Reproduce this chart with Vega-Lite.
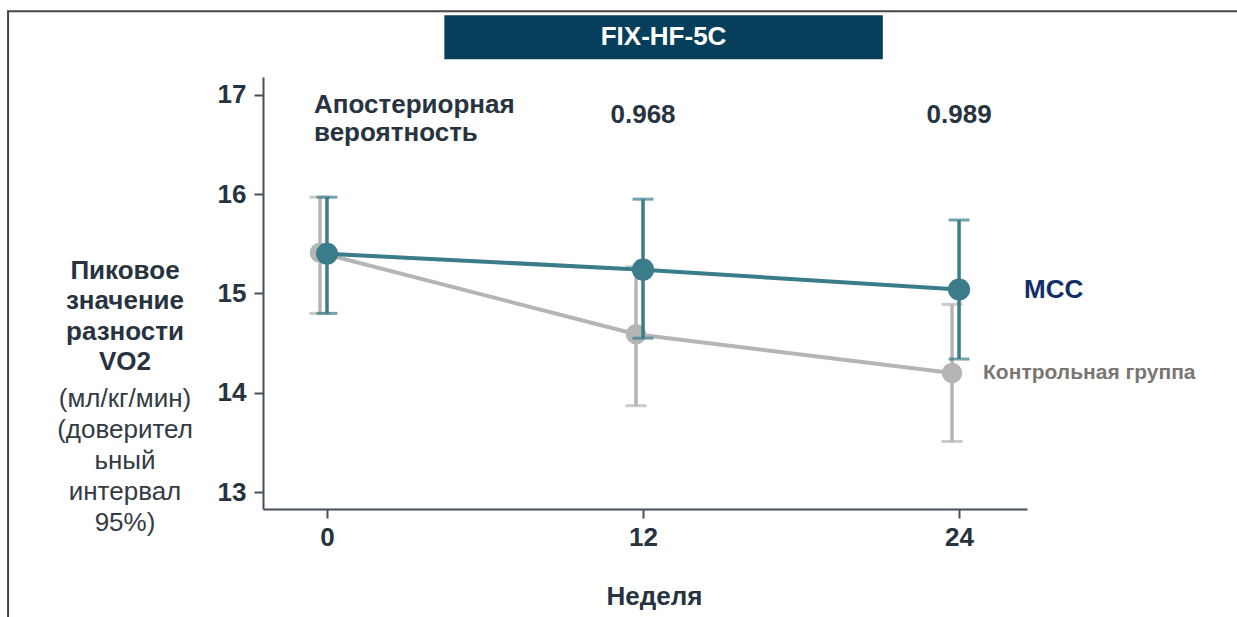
{
  "$schema": "https://vega.github.io/schema/vega-lite/v6.json",
  "width": 764,
  "height": 432,
  "autosize": {"type": "none"},
  "padding": {"left": 263, "top": 77, "right": 210, "bottom": 108},
  "background": "white",
  "config": {
    "view": {"stroke": null},
    "font": "Liberation Sans",
    "axis": {
      "domainColor": "#45505b", "domainWidth": 2,
      "tickColor": "#45505b", "tickWidth": 2, "tickSize": 9,
      "labelFont": "Liberation Sans", "labelFontWeight": "bold", "labelFontSize": 26, "labelColor": "#27333f",
      "grid": false,
      "titleFont": "Liberation Sans", "titleFontSize": 26, "titleFontWeight": "bold", "titleColor": "#27333f"
    }
  },
  "datasets": {
    "stats": [
      {"group": "MCC", "week": 0, "mean": 15.40, "lo": 14.80, "hi": 15.97},
      {"group": "MCC", "week": 12, "mean": 15.24, "lo": 14.55, "hi": 15.95},
      {"group": "MCC", "week": 24, "mean": 15.04, "lo": 14.34, "hi": 15.74},
      {"group": "Контрольная группа", "week": 0, "mean": 15.41, "lo": 14.80, "hi": 15.97},
      {"group": "Контрольная группа", "week": 12, "mean": 14.59, "lo": 13.87, "hi": 15.27},
      {"group": "Контрольная группа", "week": 24, "mean": 14.20, "lo": 13.51, "hi": 14.89}
    ],
    "probs": [
      {"week": 12, "prob": "0.968"},
      {"week": 24, "prob": "0.989"}
    ]
  },
  "layer": [
    {
      "data": {"values": [{}]},
      "mark": {"type": "rect", "fill": null, "stroke": "#444444", "strokeWidth": 2},
      "encoding": {
        "x": {"datum": -12.11, "type": "quantitative", "scale": {"domain": [-2.43, 26.58], "nice": false, "zero": false}},
        "x2": {"datum": 35.5},
        "y": {"datum": 17.842, "type": "quantitative", "scale": {"domain": [12.83, 17.18], "nice": false, "zero": false}},
        "y2": {"datum": 11.4}
      }
    },
    {
      "data": {"values": [{}]},
      "mark": {"type": "rect", "fill": "#063f5b"},
      "encoding": {
        "x": {"datum": 4.456, "type": "quantitative", "scale": {"domain": [-2.43, 26.58], "nice": false, "zero": false}},
        "x2": {"datum": 21.106},
        "y": {"datum": 17.802, "type": "quantitative", "scale": {"domain": [12.83, 17.18], "nice": false, "zero": false}},
        "y2": {"datum": 17.358}
      }
    },
    {
      "data": {"values": [{}]},
      "mark": {"type": "text", "text": "FIX-HF-5C", "color": "white", "fontWeight": "bold", "fontSize": 26, "align": "center", "baseline": "middle"},
      "encoding": {
        "x": {"datum": 12.78, "type": "quantitative", "scale": {"domain": [-2.43, 26.58], "nice": false, "zero": false}},
        "y": {"datum": 17.58, "type": "quantitative", "scale": {"domain": [12.83, 17.18], "nice": false, "zero": false}}
      }
    },
    {
      "data": {"name": "stats"},
      "transform": [{"filter": "datum.group !== 'MCC'"}],
      "mark": {"type": "rule", "color": "#b5b5b5", "strokeWidth": 3.5, "xOffset": -7},
      "encoding": {
        "x": {"field": "week", "type": "quantitative", "title": "Неделя", "scale": {"domain": [-2.43, 26.58], "nice": false, "zero": false},
              "axis": {"values": [0, 12, 24], "format": "d", "labelPadding": 6, "titlePadding": 33, "titleX": 391}},
        "y": {"field": "lo", "type": "quantitative", "title": null, "scale": {"domain": [12.83, 17.18], "nice": false, "zero": false},
              "axis": {"values": [13, 14, 15, 16, 17], "format": "d", "labelPadding": 8}},
        "y2": {"field": "hi"}
      }
    },
    {
      "data": {"name": "stats"},
      "transform": [{"filter": "datum.group !== 'MCC'"}, {"fold": ["lo", "hi"], "as": ["k", "v"]}],
      "mark": {"type": "tick", "orient": "horizontal", "color": "#b5b5b5", "size": 21, "thickness": 3, "xOffset": -7},
      "encoding": {
        "x": {"field": "week", "type": "quantitative", "title": "Неделя", "scale": {"domain": [-2.43, 26.58], "nice": false, "zero": false}},
        "y": {"field": "v", "type": "quantitative", "title": null, "scale": {"domain": [12.83, 17.18], "nice": false, "zero": false}}
      }
    },
    {
      "data": {"name": "stats"},
      "transform": [{"filter": "datum.group !== 'MCC'"}],
      "mark": {"type": "line", "color": "#b5b5b5", "strokeWidth": 4, "xOffset": -7},
      "encoding": {
        "x": {"field": "week", "type": "quantitative", "title": "Неделя", "scale": {"domain": [-2.43, 26.58], "nice": false, "zero": false}},
        "y": {"field": "mean", "type": "quantitative", "title": null, "scale": {"domain": [12.83, 17.18], "nice": false, "zero": false}}
      }
    },
    {
      "data": {"name": "stats"},
      "transform": [{"filter": "datum.group !== 'MCC'"}],
      "mark": {"type": "point", "filled": true, "color": "#b5b5b5", "size": 420, "opacity": 1, "xOffset": -7},
      "encoding": {
        "x": {"field": "week", "type": "quantitative", "title": "Неделя", "scale": {"domain": [-2.43, 26.58], "nice": false, "zero": false}},
        "y": {"field": "mean", "type": "quantitative", "title": null, "scale": {"domain": [12.83, 17.18], "nice": false, "zero": false}}
      }
    },
    {
      "data": {"name": "stats"},
      "transform": [{"filter": "datum.group === 'MCC'"}],
      "mark": {"type": "line", "color": "#3a7c8a", "strokeWidth": 4},
      "encoding": {
        "x": {"field": "week", "type": "quantitative", "title": "Неделя", "scale": {"domain": [-2.43, 26.58], "nice": false, "zero": false}},
        "y": {"field": "mean", "type": "quantitative", "title": null, "scale": {"domain": [12.83, 17.18], "nice": false, "zero": false}}
      }
    },
    {
      "data": {"name": "stats"},
      "transform": [{"filter": "datum.group === 'MCC'"}],
      "mark": {"type": "rule", "color": "#3a7c8a", "strokeWidth": 3.5},
      "encoding": {
        "x": {"field": "week", "type": "quantitative", "title": "Неделя", "scale": {"domain": [-2.43, 26.58], "nice": false, "zero": false}},
        "y": {"field": "lo", "type": "quantitative", "title": null, "scale": {"domain": [12.83, 17.18], "nice": false, "zero": false}},
        "y2": {"field": "hi"}
      }
    },
    {
      "data": {"name": "stats"},
      "transform": [{"filter": "datum.group === 'MCC'"}, {"fold": ["lo", "hi"], "as": ["k", "v"]}],
      "mark": {"type": "tick", "orient": "horizontal", "color": "#3a7c8a", "size": 21, "thickness": 3},
      "encoding": {
        "x": {"field": "week", "type": "quantitative", "title": "Неделя", "scale": {"domain": [-2.43, 26.58], "nice": false, "zero": false}},
        "y": {"field": "v", "type": "quantitative", "title": null, "scale": {"domain": [12.83, 17.18], "nice": false, "zero": false}}
      }
    },
    {
      "data": {"name": "stats"},
      "transform": [{"filter": "datum.group === 'MCC'"}],
      "mark": {"type": "point", "filled": true, "color": "#3a7c8a", "size": 490, "opacity": 1},
      "encoding": {
        "x": {"field": "week", "type": "quantitative", "title": "Неделя", "scale": {"domain": [-2.43, 26.58], "nice": false, "zero": false}},
        "y": {"field": "mean", "type": "quantitative", "title": null, "scale": {"domain": [12.83, 17.18], "nice": false, "zero": false}}
      }
    },
    {
      "data": {"name": "stats"},
      "transform": [{"filter": "datum.group === 'MCC' && datum.week === 24"}],
      "mark": {"type": "text", "align": "left", "baseline": "middle", "dx": 65, "fontSize": 26, "fontWeight": "bold", "color": "#122d69"},
      "encoding": {
        "x": {"field": "week", "type": "quantitative", "title": "Неделя", "scale": {"domain": [-2.43, 26.58], "nice": false, "zero": false}},
        "y": {"field": "mean", "type": "quantitative", "title": null, "scale": {"domain": [12.83, 17.18], "nice": false, "zero": false}},
        "text": {"field": "group"}
      }
    },
    {
      "data": {"name": "stats"},
      "transform": [{"filter": "datum.group !== 'MCC' && datum.week === 24"}],
      "mark": {"type": "text", "align": "left", "baseline": "middle", "dx": 24, "fontSize": 21, "fontWeight": "bold", "color": "#7b7672"},
      "encoding": {
        "x": {"field": "week", "type": "quantitative", "title": "Неделя", "scale": {"domain": [-2.43, 26.58], "nice": false, "zero": false}},
        "y": {"field": "mean", "type": "quantitative", "title": null, "scale": {"domain": [12.83, 17.18], "nice": false, "zero": false}},
        "text": {"field": "group"}
      }
    },
    {
      "data": {"name": "probs"},
      "mark": {"type": "text", "align": "center", "baseline": "middle", "fontSize": 26, "fontWeight": "bold", "color": "#27333f"},
      "encoding": {
        "x": {"field": "week", "type": "quantitative", "title": "Неделя", "scale": {"domain": [-2.43, 26.58], "nice": false, "zero": false}},
        "y": {"datum": 16.794, "type": "quantitative", "scale": {"domain": [12.83, 17.18], "nice": false, "zero": false}},
        "text": {"field": "prob"}
      }
    },
    {
      "data": {"values": [{}]},
      "mark": {"type": "text", "text": ["Апостериорная", "вероятность"], "align": "left", "baseline": "middle", "lineHeight": 28, "fontSize": 26, "fontWeight": "bold", "color": "#27333f"},
      "encoding": {
        "x": {"datum": -0.493, "type": "quantitative", "scale": {"domain": [-2.43, 26.58], "nice": false, "zero": false}},
        "y": {"datum": 16.898, "type": "quantitative", "scale": {"domain": [12.83, 17.18], "nice": false, "zero": false}}
      }
    },
    {
      "data": {"values": [{}]},
      "mark": {"type": "text", "text": ["Пиковое", "значение", "разности", "VO2"], "align": "center", "baseline": "middle", "lineHeight": 30.5, "fontSize": 26, "fontWeight": "bold", "color": "#27333f"},
      "encoding": {
        "x": {"datum": -7.67, "type": "quantitative", "scale": {"domain": [-2.43, 26.58], "nice": false, "zero": false}},
        "y": {"datum": 15.23, "type": "quantitative", "scale": {"domain": [12.83, 17.18], "nice": false, "zero": false}}
      }
    },
    {
      "data": {"values": [{}]},
      "mark": {"type": "text", "text": ["(мл/кг/мин)", "(доверител", "ьный", "интервал", "95%)"], "align": "center", "baseline": "middle", "lineHeight": 31, "fontSize": 26, "fontWeight": "normal", "color": "#333b44"},
      "encoding": {
        "x": {"datum": -7.67, "type": "quantitative", "scale": {"domain": [-2.43, 26.58], "nice": false, "zero": false}},
        "y": {"datum": 13.935, "type": "quantitative", "scale": {"domain": [12.83, 17.18], "nice": false, "zero": false}}
      }
    }
  ]
}
